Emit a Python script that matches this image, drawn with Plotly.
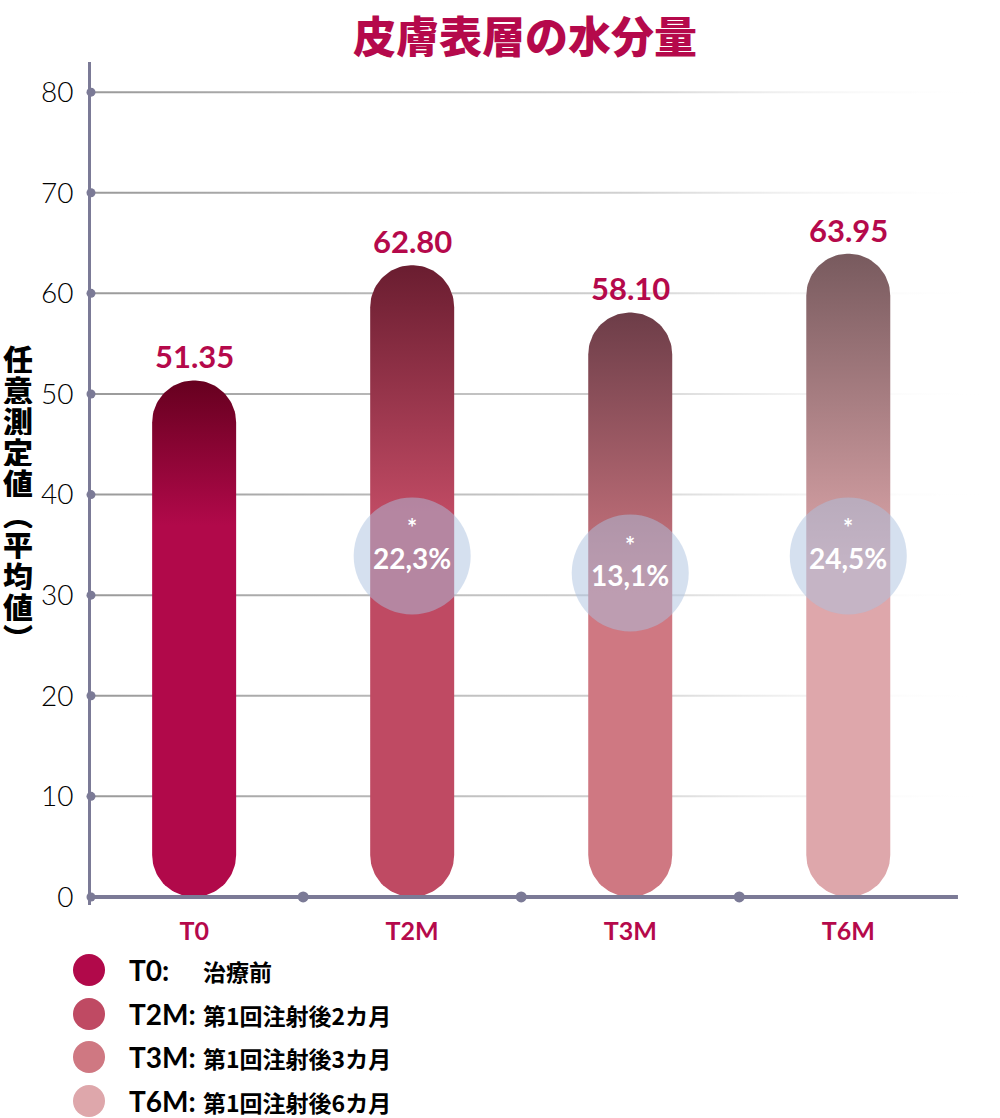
import numpy as np
import plotly.graph_objects as go

# data
title = "皮膚表層の水分量"
y_title = "任意測定値（平均値）"
categories = ["T0", "T2M", "T3M", "T6M"]
values = [51.35, 62.80, 58.10, 63.95]
value_labels = ["51.35", "62.80", "58.10", "63.95"]
change_labels = [None, "22,3%", "13,1%", "24,5%"]
legend_desc = ["治療前", "第1回注射後2カ月", "第1回注射後3カ月", "第1回注射後6カ月"]
y_ticks = [0, 10, 20, 30, 40, 50, 60, 70, 80]

# styles
base_colors = ["#b1094a", "#bf4a63", "#cf7882", "#dea7ab"]
top_colors = ["#66001f", "#6a1d30", "#6d3d48", "#785a5e"]
fade_share = [0.28, 0.39, 0.48, 0.49]
circle_y = [None, 33.9, 32.2, 33.9]
CRIMSON = "#b5094b"
AXIS = "#7b7a96"
LATIN = "Lato, 'Noto Sans', sans-serif"
CJK = "'Noto Sans CJK JP', 'Noto Sans', sans-serif"

# body margin is removed in the page, so figure pixels == page pixels
W, H = 1000, 1118
ML, MT = 91, 62
MR = W - 990
MB = H - 905
XR = [-0.473, 3.65]
YR = [-0.8, 83.0]
plot_w = W - ML - MR
plot_h = H - MT - MB
px_x = plot_w / (XR[1] - XR[0])
px_y = plot_h / (YR[1] - YR[0])


def paper_x(px):
    return (px - ML) / plot_w


def paper_y(py):
    return (H - MB - py) / plot_h


def pill(xc, top, half_px=42):
    hw = half_px / px_x
    ry = half_px / px_y
    t = np.linspace(0, np.pi, 48)
    xs = np.concatenate([xc + hw * np.cos(t), xc - hw * np.cos(t)])
    ys = np.concatenate([top - ry + ry * np.sin(t), ry - ry * np.sin(t)])
    return np.append(xs, xs[0]), np.append(ys, ys[0])


def note(px, py, text, font, xanchor="center", **kw):
    fig.add_annotation(
        x=paper_x(px), y=paper_y(py), xref="paper", yref="paper", showarrow=False,
        xanchor=xanchor, yanchor="middle", text=text, font=font, **kw,
    )


fig = go.Figure()

# fading gridlines
for v in y_ticks[1:]:
    d = 1.0 / px_y
    fig.add_trace(go.Scatter(
        x=[XR[0], XR[1], XR[1], XR[0], XR[0]],
        y=[v - d, v - d, v + d, v + d, v - d],
        mode="lines", line=dict(width=0), fill="toself",
        fillgradient=dict(type="horizontal", start=XR[0], stop=XR[1],
                          colorscale=[[0, "#9a9a9a"], [0.6, "#d2d2d2"],
                                      [1, "rgba(255,255,255,0)"]]),
        hoverinfo="skip", showlegend=False,
    ))

# pill bars
for i, v in enumerate(values):
    xs, ys = pill(i, v)
    fig.add_trace(go.Scatter(
        x=xs, y=ys, mode="lines", line=dict(width=0), fill="toself",
        fillgradient=dict(type="vertical", start=v * (1 - fade_share[i]), stop=v,
                          colorscale=[[0, base_colors[i]], [1, top_colors[i]]]),
        hoverinfo="skip", showlegend=False,
    ))

# change circles
idx = [i for i, c in enumerate(change_labels) if c]
fig.add_trace(go.Scatter(
    x=idx, y=[circle_y[i] for i in idx], mode="markers",
    marker=dict(size=117, color="rgba(171,193,223,0.5)", line=dict(width=0)),
    hoverinfo="skip", showlegend=False,
))
for i in idx:
    fig.add_annotation(
        x=i, y=circle_y[i], xref="x", yref="y", showarrow=False, yanchor="middle",
        yshift=28, text="*", font=dict(family=LATIN, size=24, color="white", weight=700),
    )
    fig.add_annotation(
        x=i, y=circle_y[i], xref="x", yref="y", showarrow=False, yanchor="middle",
        yshift=-2, text=change_labels[i],
        font=dict(family=LATIN, size=28, color="white", weight=700),
    )

# value labels
for i, v in enumerate(values):
    fig.add_annotation(
        x=i, y=v, xref="x", yref="y", showarrow=False, yanchor="bottom", yshift=3,
        text=value_labels[i], font=dict(family=LATIN, size=31, color=CRIMSON, weight=700),
    )

# axis dots
fig.add_trace(go.Scatter(
    x=[XR[0]] * len(y_ticks), y=y_ticks, mode="markers", cliponaxis=False,
    marker=dict(size=9, color=AXIS), hoverinfo="skip", showlegend=False,
))
fig.add_trace(go.Scatter(
    x=[0.5, 1.5, 2.5], y=[0, 0, 0], mode="markers", cliponaxis=False,
    marker=dict(size=11, color=AXIS), hoverinfo="skip", showlegend=False,
))

# x baseline
fig.add_shape(type="line", xref="x", yref="y", x0=XR[0] - 0.01, x1=3.503, y0=0, y1=0,
              line=dict(color=AXIS, width=4), layer="above")

# title and vertical y title (one annotation per character, tightly stacked)
note(525, 34, title, dict(family=CJK, size=43, color=CRIMSON, weight=900))
vert = y_title.replace("（", "︵").replace("）", "︶")
for k, ch in enumerate(vert):
    note(18, 358 + k * 31, ch, dict(family=CJK, size=30, color="black", weight=900),
         height=30, borderpad=0, valign="middle")

# legend
rows = [970, 1014, 1057, 1101]
for i, cat in enumerate(categories):
    fig.add_shape(
        type="circle", xref="paper", yref="paper", xsizemode="pixel", ysizemode="pixel",
        xanchor=paper_x(89), yanchor=paper_y(rows[i]), x0=-16, x1=16, y0=-16, y1=16,
        fillcolor=base_colors[i], line=dict(width=0),
    )
    note(127, rows[i], cat + ":", dict(family=LATIN, size=28, color="black", weight=700),
         xanchor="left")
    note(201, rows[i] + 1, legend_desc[i],
         dict(family=CJK, size=23, color="black", weight=700), xanchor="left")

fig.update_layout(
    width=W, height=H, margin=dict(l=ML, r=MR, t=MT, b=MB, autoexpand=False),
    paper_bgcolor="white", plot_bgcolor="white", showlegend=False,
)
fig.update_xaxes(
    range=XR, showgrid=False, zeroline=False, showline=False,
    tickvals=list(range(len(categories))), ticktext=categories, ticks="",
    ticklabelstandoff=9, tickfont=dict(family=LATIN, size=25, color=CRIMSON, weight=700),
)
fig.update_yaxes(
    range=YR, showgrid=False, zeroline=False, showline=True, linecolor=AXIS, linewidth=3,
    tickvals=y_ticks, ticks="", ticklabelstandoff=9,
    tickfont=dict(family=LATIN, size=28, color="black", weight=300),
)

fig.write_html("out.html", config={"displayModeBar": False},
               post_script="document.body.style.margin = '0';")
